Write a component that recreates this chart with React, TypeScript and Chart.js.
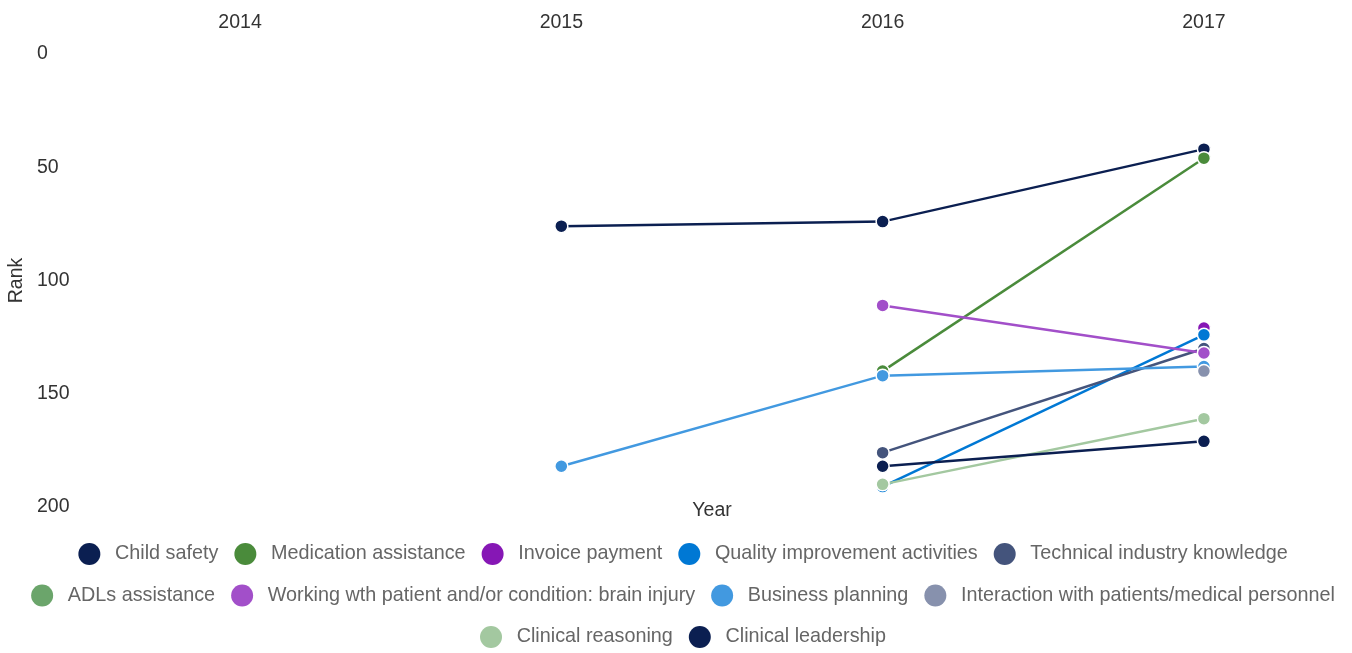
import React, { useEffect, useRef } from 'react';
import { Chart, registerables } from 'chart.js';

Chart.register(...registerables);

const FONT_FAMILY = "'Liberation Sans', Arial, Helvetica, sans-serif";

const years = [2014, 2015, 2016, 2017];
const yearLabels = ['2014', '2015', '2016', '2017'];
const rankTickValues = [0, 50, 100, 150, 200];

const seriesNames = [
  'Child safety',
  'Medication assistance',
  'Invoice payment',
  'Quality improvement activities',
  'Technical industry knowledge',
  'ADLs assistance',
  'Working wth patient and/or condition: brain injury',
  'Business planning',
  'Interaction with patients/medical personnel',
  'Clinical reasoning',
  'Clinical leadership',
];

const seriesColors = [
  '#0B1F51',
  '#4A8B3B',
  '#8617B5',
  '#0078D4',
  '#44547C',
  '#6BA56B',
  '#A24FC9',
  '#4299E0',
  '#8791AD',
  '#A3C8A0',
  '#0B1F51',
];

// ranks per year (2014, 2015, 2016, 2017)
const childSafety = [null, 76, 74, 42];
const medicationAssistance = [null, null, 140, 46];
const invoicePayment = [null, null, null, 121];
const qualityImprovement = [null, null, 191, 124];
const technicalKnowledge = [null, null, 176, 130];
const adlsAssistance = [null, null, null, null];
const brainInjury = [null, null, 111, 132];
const businessPlanning = [null, 182, 142, 138];
const interactionPatients = [null, null, null, 140];
const clinicalReasoning = [null, null, 190, 161];
const clinicalLeadership = [null, null, 182, 171];

const seriesValues = [
  childSafety,
  medicationAssistance,
  invoicePayment,
  qualityImprovement,
  technicalKnowledge,
  adlsAssistance,
  brainInjury,
  businessPlanning,
  interactionPatients,
  clinicalReasoning,
  clinicalLeadership,
];

const LEGEND_SHIFT = 7;
const DOT_R = 11;

const legendDots = {
  id: 'legendDots',
  afterLayout(chart: any) {
    const lg = chart.legend;
    if (lg) {
      lg.left += LEGEND_SHIFT;
      lg.right += LEGEND_SHIFT;
    }
  },
  afterDraw(chart: any) {
    const lg = chart.legend;
    if (!lg || !lg.legendHitBoxes || !lg.legendItems) return;
    const ctx = chart.ctx;
    ctx.save();
    lg.legendItems.forEach((item: any, i: number) => {
      const hb = lg.legendHitBoxes[i];
      if (!hb) return;
      const ds = chart.data.datasets[item.datasetIndex];
      ctx.beginPath();
      ctx.arc(hb.left + DOT_R, hb.top + hb.height / 2, DOT_R, 0, Math.PI * 2);
      ctx.fillStyle = ds.backgroundColor;
      ctx.fill();
    });
    ctx.restore();
  },
};

export default function App() {
  const canvasRef = useRef<HTMLCanvasElement | null>(null);

  useEffect(() => {
    if (!canvasRef.current) return;
    const font = { family: FONT_FAMILY, size: 19.5 };
    const legendFont = { family: FONT_FAMILY, size: 19.8 };

    const datasets = seriesNames.map((name, i) => ({
      label: name,
      data: years.map((yr, j) => ({ x: yr, y: seriesValues[i][j] })),
      borderColor: seriesColors[i],
      backgroundColor: seriesColors[i],
      pointBackgroundColor: seriesColors[i],
      pointBorderColor: '#ffffff',
      pointBorderWidth: 1.5,
      pointRadius: 6.5,
      pointHoverRadius: 6.5,
      borderWidth: 2.5,
      tension: 0,
      spanGaps: false,
      order: -i,
    }));

    const chart = new Chart(canvasRef.current, {
      type: 'line',
      data: { datasets },
      plugins: [legendDots],
      options: {
        animation: false,
        responsive: true,
        maintainAspectRatio: false,
        layout: { padding: { top: -9.4, right: 0, bottom: -6.75, left: 0 } },
        scales: {
          x: {
            type: 'linear',
            position: 'top',
            min: 2013.502,
            max: 2017.436,
            grid: { display: false, drawTicks: false },
            border: { display: false },
            afterBuildTicks: (axis: any) => {
              axis.ticks = years.map((v) => ({ value: v }));
            },
            ticks: {
              padding: 20,
              color: '#333333',
              font,
              maxRotation: 0,
              autoSkip: false,
              callback: (v: any) => {
                const k = years.indexOf(Number(v));
                return k >= 0 ? yearLabels[k] : '';
              },
            },
          },
          xYear: {
            type: 'linear',
            position: 'bottom',
            display: true,
            grid: { display: false, drawTicks: false },
            border: { display: false },
            ticks: { display: false },
            title: {
              display: true,
              text: 'Year',
              color: '#333333',
              font,
              padding: { top: -7.7, bottom: 2.55 },
            },
          },
          y: {
            type: 'linear',
            position: 'left',
            reverse: true,
            min: 0,
            max: 200,
            weight: 0,
            grid: { display: false, drawTicks: false },
            border: { display: false },
            afterBuildTicks: (axis: any) => {
              axis.ticks = rankTickValues.map((v) => ({ value: v }));
            },
            ticks: {
              crossAlign: 'far',
              padding: 5.25,
              color: '#333333',
              font,
            },
          },
          yRank: {
            type: 'linear',
            position: 'left',
            display: true,
            weight: 1,
            grid: { display: false, drawTicks: false },
            border: { display: false },
            ticks: { display: false },
            title: {
              display: true,
              text: 'Rank',
              color: '#333333',
              font,
              padding: { top: 5.3, bottom: 8.3 },
            },
          },
        },
        plugins: {
          tooltip: { enabled: false },
          title: { display: false },
          legend: {
            display: true,
            position: 'bottom',
            labels: {
              boxWidth: 26.75,
              boxHeight: 25.5,
              padding: 16,
              color: '#666666',
              font: legendFont,
              usePointStyle: false,
              sort: (a: any, b: any) => a.datasetIndex - b.datasetIndex,
              generateLabels: (c: any) =>
                (Chart.defaults.plugins.legend.labels.generateLabels as any)(c).map((l: any) => ({
                  ...l,
                  fillStyle: 'rgba(0,0,0,0)',
                  strokeStyle: 'rgba(0,0,0,0)',
                  lineWidth: 0,
                })),
            },
          },
        },
      } as any,
    });

    return () => chart.destroy();
  }, []);

  return (
    <div style={{ position: 'fixed', left: 0, top: 0, width: 1352, height: 653, background: '#ffffff' }}>
      <canvas ref={canvasRef} />
    </div>
  );
}
